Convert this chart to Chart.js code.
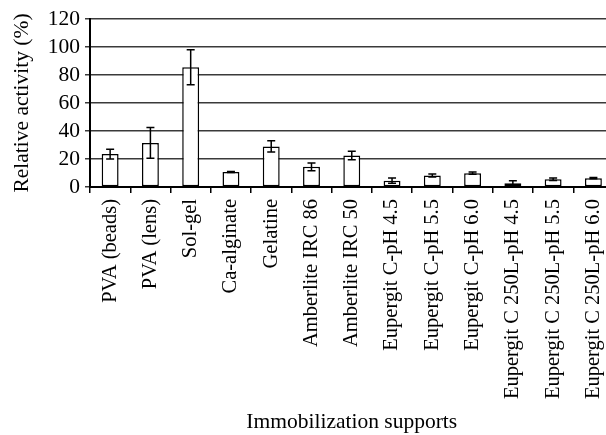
<!DOCTYPE html>
<html>
<head>
<meta charset="utf-8">
<script src="https://cdn.jsdelivr.net/npm/chart.js@4/dist/chart.umd.min.js"></script>
<style>
  html, body { margin: 0; padding: 0; background: #fff; overflow: hidden; }
  #wrap { width: 606px; height: 435px; overflow: hidden; }
</style>
</head>
<body>
<div id="wrap"><canvas id="supportChart" width="624" height="435"></canvas></div>
<script>
// categories and values
const supports = [
    'PVA (beads)', 'PVA (lens)', 'Sol-gel', 'Ca-alginate', 'Gelatine',
    'Amberlite IRC 86', 'Amberlite IRC 50',
    'Eupergit C-pH 4.5', 'Eupergit C-pH 5.5', 'Eupergit C-pH 6.0',
    'Eupergit C 250L-pH 4.5', 'Eupergit C 250L-pH 5.5', 'Eupergit C 250L-pH 6.0'
];
const activity = [23.5, 31.5, 85.5, 10.7, 29, 14.4, 22.5, 4.5, 8.2, 9.9, 2.6, 5.5, 6.3];
const activityErr = [3.5, 11, 12.5, 0.4, 4, 2.8, 3, 1.9, 1, 0.8, 1.9, 0.9, 0.4];
const yTicks = [0, 20, 40, 60, 80, 100, 120];

const serif = 'Liberation Serif, "Times New Roman", serif';

// error bars drawn on top of the bars
const errorBars = {
    id: 'errorBars',
    afterDatasetsDraw(chart) {
        const ctx = chart.ctx;
        const y = chart.scales.y;
        const meta = chart.getDatasetMeta(0);
        ctx.save();
        ctx.strokeStyle = '#000';
        ctx.lineWidth = 1.5;
        meta.data.forEach((bar, i) => {
            const top = y.getPixelForValue(activity[i] + activityErr[i]);
            const bot = y.getPixelForValue(activity[i] - activityErr[i]);
            ctx.beginPath();
            ctx.moveTo(bar.x, top); ctx.lineTo(bar.x, bot);
            ctx.moveTo(bar.x - 4, top); ctx.lineTo(bar.x + 4, top);
            ctx.moveTo(bar.x - 4, bot); ctx.lineTo(bar.x + 4, bot);
            ctx.stroke();
        });
        ctx.restore();
    }
};

const ctx = document.getElementById('supportChart').getContext('2d');
const supportChart = new Chart(ctx, {
    type: 'bar',
    data: {
        labels: supports,
        datasets: [{
            label: 'Relative activity',
            data: activity,
            backgroundColor: '#fff',
            borderColor: '#000',
            borderWidth: 1.5,
            borderSkipped: false,
            barPercentage: 0.42,
            categoryPercentage: 1
        }]
    },
    options: {
        responsive: false,
        animation: false,
        devicePixelRatio: 1,
        layout: { padding: { top: 19, left: 0, right: 0, bottom: 0 } },
        plugins: { legend: { display: false }, tooltip: { enabled: false } },
        scales: {
            x: {
                afterFit(scale) { scale.height = 248; },
                border: { color: '#000', width: 2 },
                grid: { drawOnChartArea: false, offset: true, tickLength: 6, color: '#000', lineWidth: 1.5 },
                ticks: {
                    autoSkip: false, minRotation: 90, maxRotation: 90, padding: 6,
                    color: '#000', font: { family: serif, size: 20.5 }
                },
                title: {
                    display: true, text: 'Immobilization supports', color: '#000',
                    font: { family: serif, size: 21.5 }, padding: { top: 0, bottom: 0 }
                }
            },
            y: {
                min: 0, max: 120,
                afterFit(scale) { scale.width = 90; },
                afterBuildTicks(scale) { scale.ticks = yTicks.map(v => ({ value: v })); },
                border: { color: '#000', width: 2 },
                grid: { color: '#3a3a3a', lineWidth: 1.5, tickLength: 5 },
                ticks: { autoSkip: false, padding: 5, color: '#000', font: { family: serif, size: 21.5 } },
                title: {
                    display: true, text: 'Relative activity (%)', color: '#000',
                    font: { family: serif, size: 21.5 }, padding: { top: 9, bottom: 0 }
                }
            }
        }
    },
    plugins: [errorBars]
});
</script>
</body>
</html>
